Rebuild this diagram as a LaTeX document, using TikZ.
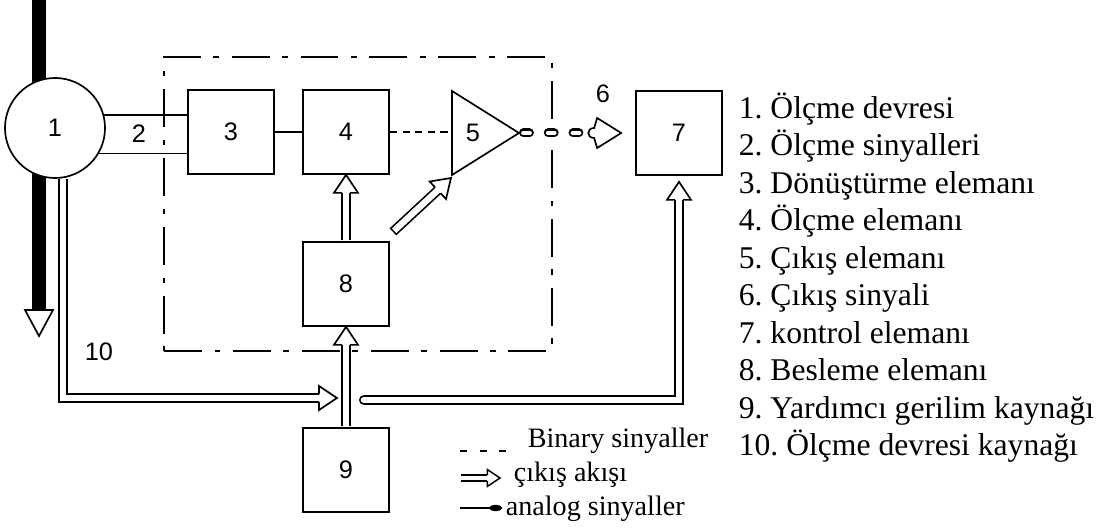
\documentclass[tikz,border=0pt]{standalone}
\usepackage{fontspec}
\setmainfont{Liberation Serif}
\newfontfamily\digfont{Liberation Sans}
\usetikzlibrary{arrows.meta}
\frenchspacing

% hollow head for the double-lined flow arrows
\newcommand{\phead}[3][1]{%
  \begin{scope}[shift={(#2)},rotate=#3,scale=#1]
    \filldraw[fill=white] (-18,-4) -- (-18,-12) -- (0,0) -- (-18,12) -- (-18,4);
  \end{scope}}

\begin{document}
\begin{tikzpicture}[
  x=0.025cm,
  y=-0.025cm,
  line width=1.2pt,
  blk/.style={
      draw,
      minimum width=2.15cm,
      minimum height=2.1cm,
      inner sep=0pt,
      font=\digfont\fontsize{18}{20}\selectfont
  },
  num/.style={
      inner sep=0pt,
      font=\digfont\fontsize{18}{20}\selectfont
  },
  zone/.style={
      draw,
      line width=1.1pt,
      dash pattern=on 27pt off 9pt on 4pt off 9pt,
      minimum width=9.7cm,
      minimum height=7.35cm
  },
  pipe/.style={
      double,
      double distance=4.5pt,
      shorten <=0.6pt,
      shorten >=0.45cm
  },
  pill/.style={
      line width=6.4pt,
      line cap=round,
      dash pattern=on 4.2pt off 13.4pt,
      shorten <=3.2pt,
      shorten >=0.85cm
  },
  binary/.style={
      dash pattern=on 5pt off 4pt
  },
  txt/.style={
      anchor=base west,
      inner sep=0pt,
      font=\fontsize{20}{24}\selectfont
  }
]
\useasboundingbox (0,0) rectangle (1105,531);

\node[zone] (box) at (358,204) {};

% main line through the measuring circuit
\coordinate (bartop) at (39,0);
\coordinate (barbot) at (39,310);
\draw[line width=0.33cm] (bartop) -- (barbot);
\draw[fill=white] (barbot) ++(-14,0) -- ++(28,0) -- ++(-14,26) -- cycle;

\node[draw, circle, fill=white, minimum size=2.5cm, num] (n1) at (55,128) {1};

\node[blk] (n3) at (231,132) {3};
\node[blk] (n4) at (346,132) {4};
\node[blk] (n8) at (346,284) {8};
\node[blk] (n9) at (346,470) {9};
\node[blk] (n7) at (679,133) {7};

\coordinate (t5a) at (452,91);
\coordinate (t5b) at (452,175);
\coordinate (t5c) at (519,133);
\draw (t5a) -- (t5c) -- (t5b) -- cycle;
\node[num] (n5) at (473,133) {5};

\node[num] (l2) at (139,134) {2};
\node[num] (l6) at (603,94) {6};
\node[num] (l10) at (99,352) {10};

\draw (n1.15) -- (n1.15 -| n3.west);
\draw (n1.-30) -- (n1.-30 -| n3.west);
\draw (n3.east) -- (n4.west);
\draw[binary] (n4.east) -- (n4.east -| t5a);

\draw[pipe] (n8.north) -- (n4.south);
\phead{n4.south}{90}
\draw[pipe] (n9.north) -- (n8.south);
\phead{n8.south}{90}

\coordinate (d8) at ([shift={(6,-12)}]n8.north east);
\coordinate (d5) at ([shift={(-1,3)}]t5b);
\draw[pipe, line cap=rect] (d8) -- (d5);
\phead{d5}{43}

\coordinate (j10) at (337,398);
\draw[pipe] (n1.-81) |- (j10);
\phead{j10}{0}

\coordinate (s7) at (363,400);
\coordinate (t7) at ([shift={(0,6)}]n7.south);
\draw[pipe, line cap=round] (s7) -| (t7);
\phead{t7}{90}

% output signal 6
\coordinate (t6) at ([shift={(-14,0)}]n7.west);
\draw[pill] (t5c) -- (t6);
\draw[pill, white, line width=3.5pt] (t5c) -- (t6);
\draw[fill=white] (t6) -- ++(-24,-15) -- ++(-3,10)
  to[out=180,in=180,looseness=2] ++(0,10) -- ++(3,10) -- cycle;

\node[anchor=north west, inner sep=0pt, align=left,
  font=\fontsize{22.5}{26.65}\selectfont] (key) at (738,92)
{
1. Ölçme devresi\\
2. Ölçme sinyalleri\\
3. Dönüştürme elemanı\\
4. Ölçme elemanı\\
5. Çıkış elemanı\\
6. Çıkış sinyali\\
7. kontrol elemanı\\
8. Besleme elemanı\\
9. Yardımcı gerilim kaynağı\\
10. Ölçme devresi kaynağı
};

\node[txt] (lgbin) at (527,447) {Binary sinyaller};
\node[txt] (lgflow) at (513,481) {çıkış akışı};
\node[txt] (lgan) at (505,515) {analog sinyaller};

\coordinate (sbin) at (460,451);
\draw[binary, dash pattern=on 5pt off 9pt] (sbin) -- ++(48,0);

\coordinate (sflow) at (460,478);
\coordinate (eflow) at (500,478);
\begin{scope}[line width=1pt]
\draw[pipe, double distance=3pt, shorten >=0.315cm] (sflow) -- (eflow);
\phead[0.7]{eflow}{0}
\end{scope}

\coordinate (san) at (460,508);
\draw[line width=1pt, -{Ellipse[length=0.32cm,width=0.16cm]}] (san) -- ++(42,0);

\end{tikzpicture}
\end{document}
